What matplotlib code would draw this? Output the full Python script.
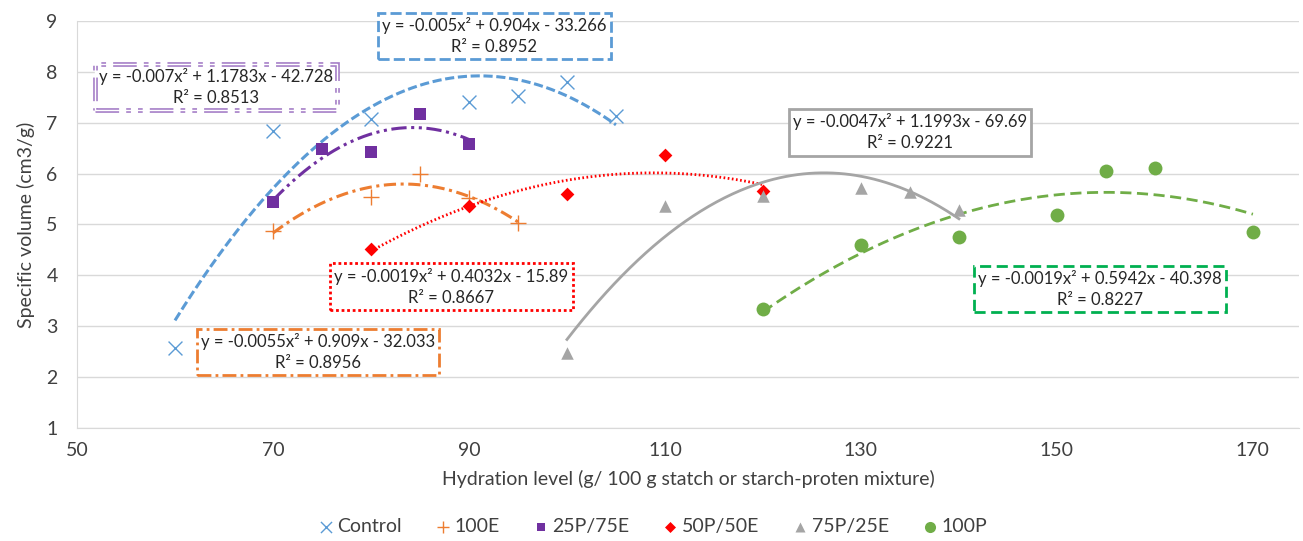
import matplotlib.pyplot as plt
import numpy as np

plt.rcParams['font.family'] = ['Lato', 'DejaVu Sans']

# ----- data -----
x_control = [60, 70, 80, 90, 95, 100, 105]
y_control = [2.57, 6.84, 7.08, 7.41, 7.53, 7.81, 7.14]

x_100e = [70, 80, 85, 90, 95]
y_100e = [4.87, 5.54, 5.99, 5.53, 5.02]

x_25p = [70, 75, 80, 85, 90]
y_25p = [5.44, 6.49, 6.43, 7.18, 6.59]

x_50p = [80, 90, 100, 110, 120]
y_50p = [4.52, 5.36, 5.60, 6.37, 5.65]

x_75p = [100, 110, 120, 130, 135, 140]
y_75p = [2.48, 5.37, 5.56, 5.71, 5.63, 5.29]

x_100p = [120, 130, 140, 150, 155, 160, 170]
y_100p = [3.34, 4.60, 4.76, 5.19, 6.05, 6.12, 4.86]

names = ["Control", "100E", "25P/75E", "50P/50E", "75P/25E", "100P"]
equations = ["y = -0.005x² + 0.904x - 33.266\nR² = 0.8952",
             "y = -0.0055x² + 0.909x - 32.033\nR² = 0.8956",
             "y = -0.007x² + 1.1783x - 42.728\nR² = 0.8513",
             "y = -0.0019x² + 0.4032x - 15.89\nR² = 0.8667",
             "y = -0.0047x² + 1.1993x - 69.69\nR² = 0.9221",
             "y = -0.0019x² + 0.5942x - 40.398\nR² = 0.8227"]

xs = [x_control, x_100e, x_25p, x_50p, x_75p, x_100p]
ys = [y_control, y_100e, y_25p, y_50p, y_75p, y_100p]

# ----- styles -----
colors = ["#5B9BD5", "#ED7D31", "#7030A0", "#FF0000", "#A5A5A5", "#70AD47"]
markers = ['x', '+', 's', 'D', '^', 'o']
msizes = [10, 11, 8, 7, 9, 10]
mews = [1.0, 1.0, 0, 0, 0, 0]
dashes = [(3, 1.2), (4, 1.5, 1, 1.5), (5, 1.5, 1, 1.5, 1, 1.5), (0.6, 0.9), None, (4, 2)]
line_w = [2.2, 2.2, 2.2, 2.0, 2.0, 2.0]
box_colors = ["#5B9BD5", "#ED7D31", "#A680C8", "#FF0000", "#A5A5A5", "#00B050"]
box_ls = [(0, (4, 1.5)), (0, (5, 1.5, 1, 1.5)), (0, (5, 1.5, 1, 1.5, 1, 1.5)),
          (0, (1, 1)), '-', (0, (4, 2))]
box_pos = [(92.6, 8.70), (74.6, 2.49), (64.2, 7.70), (88.2, 3.78), (135.0, 6.81), (154.4, 3.73)]

fontsize = 13

fig = plt.figure(figsize=(13.03, 5.41), dpi=100)
ax = fig.add_axes([0.0591, 0.2089, 0.9378, 0.7523])

handles = []
for i in range(len(names)):
    x = np.array(xs[i], dtype=float)
    y = np.array(ys[i], dtype=float)
    coef = np.polyfit(x, y, 2)
    xx = np.linspace(x.min(), x.max(), 200)
    ln, = ax.plot(xx, np.polyval(coef, xx), color=colors[i], lw=line_w[i], zorder=2)
    if dashes[i] is not None:
        ln.set_dashes(dashes[i])
    h = ax.scatter(x, y, marker=markers[i], s=msizes[i] ** 2, color=colors[i],
                   linewidths=mews[i] if mews[i] else 0, zorder=3, label=names[i])
    handles.append(h)

    ax.text(box_pos[i][0], box_pos[i][1], equations[i], ha='center', va='center',
            fontsize=fontsize - 1, color='#262626', linespacing=1.38, zorder=4,
            bbox=dict(boxstyle='square,pad=0.25', facecolor='white',
                      edgecolor=box_colors[i], linewidth=3.4 if i == 2 else 2,
                      linestyle=box_ls[i]))
    if i == 2:
        # double line border: white core over the wide purple line
        ax.text(box_pos[i][0], box_pos[i][1], equations[i], ha='center', va='center',
                fontsize=fontsize - 1, color='none', linespacing=1.38, zorder=5,
                bbox=dict(boxstyle='square,pad=0.25', facecolor='none',
                          edgecolor='white', linewidth=1.0, linestyle='-'))

ax.set_xlim(50, 174.7)
ax.set_ylim(1, 9)
ax.set_xticks(range(50, 171, 20))
ax.set_yticks(range(1, 10))
ax.grid(axis='y', color='#D9D9D9', lw=1)
ax.set_axisbelow(True)
for s in ['top', 'right']:
    ax.spines[s].set_visible(False)
for s in ['left', 'bottom']:
    ax.spines[s].set_color('#D9D9D9')
ax.tick_params(length=0, labelsize=fontsize + 1, colors='#404040', pad=10)
ax.tick_params(axis='y', pad=14)
ax.set_xlabel("Hydration level (g/ 100 g statch or starch-proten mixture)",
              fontsize=fontsize + 1, color='#404040', labelpad=8)
ax.set_ylabel("Specific volume (cm3/g)", fontsize=fontsize + 1, color='#404040', labelpad=8)

fig.legend(handles=handles, labels=names, loc='center', bbox_to_anchor=(0.5, 0.027),
           ncol=6, frameon=False, fontsize=fontsize + 1, handletextpad=0.1,
           columnspacing=1.6, handlelength=1.0, markerscale=0.8, labelcolor='#404040')

fig.savefig("out.png", dpi=100)
